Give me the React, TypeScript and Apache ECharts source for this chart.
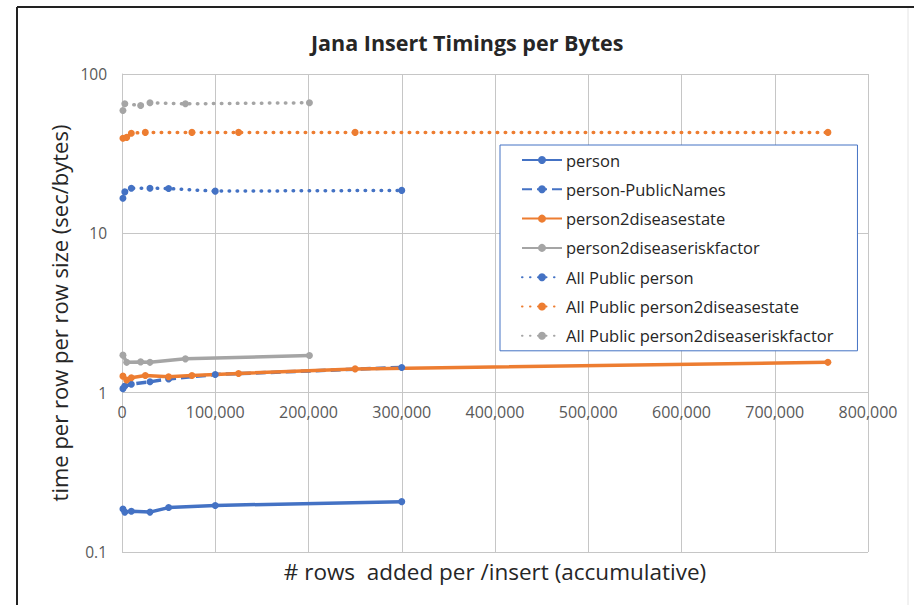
import React, { useEffect, useRef } from "react";
import * as echarts from "echarts";

const TITLE = "Jana Insert Timings per Bytes";
const X_NAME = "# rows  added per /insert (accumulative)";
const Y_NAME = "time per row per row size (sec/bytes)";

const BLUE = "#4472C4";
const ORANGE = "#ED7D31";
const GRAY = "#A5A5A5";

// [rows, seconds/byte]
const person: [number, number][] = [
  [1000, 0.186], [3000, 0.178], [10000, 0.18], [30000, 0.178], [50000, 0.19], [100000, 0.196], [300000, 0.207],
];
const personPublicNames: [number, number][] = [
  [1000, 1.06], [3000, 1.1], [10000, 1.13], [30000, 1.17], [50000, 1.22], [100000, 1.3], [300000, 1.44],
];
const person2diseasestate: [number, number][] = [
  [1000, 1.27], [5000, 1.2], [10000, 1.24], [25000, 1.28], [50000, 1.26], [75000, 1.28], [125000, 1.32], [250000, 1.41], [757000, 1.55],
];
const person2diseaseriskfactor: [number, number][] = [
  [1000, 1.72], [5000, 1.55], [20000, 1.56], [30000, 1.55], [68000, 1.63], [201000, 1.71],
];
const allPublicPerson: [number, number][] = [
  [1000, 16.6], [3000, 18.2], [10000, 19.2], [30000, 19.2], [50000, 19.1], [100000, 18.4], [300000, 18.6],
];
const allPublicP2DState: [number, number][] = [
  [1000, 39.5], [5000, 40], [10000, 42.5], [25000, 43], [75000, 43], [125000, 43], [250000, 43], [757000, 43],
];
const allPublicP2DRisk: [number, number][] = [
  [1000, 59], [3000, 65], [20000, 63.5], [30000, 66], [68000, 65], [201000, 66],
];

const FONT = "'Open Sans', 'Noto Sans', sans-serif";

function lineSeries(name: string, data: [number, number][], color: string, kind: "solid" | "dash" | "dot") {
  const lineStyle: any = { color, width: 3.5 };
  if (kind === "dash") lineStyle.type = [10, 5];
  if (kind === "dot") {
    lineStyle.type = [0.5, 7.5];
    lineStyle.cap = "round";
    lineStyle.width = 3.5;
  }
  return {
    name,
    type: "line",
    data,
    symbol: "circle",
    symbolSize: 7,
    showSymbol: true,
    itemStyle: { color },
    lineStyle,
  };
}

export default function App() {
  const ref = useRef<HTMLDivElement>(null);
  useEffect(() => {
    if (!ref.current) return;
    const chart = echarts.init(ref.current, undefined, { renderer: "svg" });
    chart.setOption({
      animation: false,
      backgroundColor: "#fff",
      title: {
        text: TITLE,
        left: 306,
        top: 26,
        textStyle: { fontFamily: FONT, fontSize: 21.5, fontWeight: "bold", color: "#262626" },
      },
      graphic: [
        { type: "line", shape: { x1: 17, y1: 7, x2: 914, y2: 7 }, style: { stroke: "#222", lineWidth: 2 } },
        { type: "line", shape: { x1: 17, y1: 7, x2: 17, y2: 605 }, style: { stroke: "#222", lineWidth: 2 } },
        { type: "line", shape: { x1: 908, y1: 8, x2: 908, y2: 605 }, style: { stroke: "#e4e4e4", lineWidth: 1 } },
      ],
      grid: { left: 122, top: 74, width: 746, height: 478, containLabel: false },
      legend: {
        orient: "vertical",
        left: 500,
        top: 145,
        padding: [5, 24, 5, 21],
        itemWidth: 40,
        itemHeight: 10,
        itemGap: 9.3,
        backgroundColor: "#fff",
        borderColor: BLUE,
        borderWidth: 1,
        borderRadius: 0,
        textStyle: { fontFamily: FONT, fontSize: 16.5, lineHeight: 20, color: "#262626", padding: [0, 0, 0, -1] },
      },
      xAxis: {
        type: "value",
        min: 0,
        max: 800000,
        interval: 100000,
        offset: -160,
        axisLine: { show: false, onZero: false },
        axisTick: { show: false },
        splitLine: { show: true, lineStyle: { color: "#c6c6c6", width: 1 } },
        axisLabel: {
          margin: 12,
          fontFamily: FONT,
          fontSize: 16,
          color: "#595959",
          formatter: (v: number) => v.toLocaleString("en-US"),
        },
        name: X_NAME,
        nameLocation: "middle",
        nameGap: 168,
        nameTextStyle: { fontFamily: FONT, fontSize: 22.5, color: "#262626" },
      },
      yAxis: {
        type: "log",
        logBase: 10,
        min: 0.1,
        max: 100,
        axisLine: { show: true, onZero: false, lineStyle: { color: "#c6c6c6", width: 1 } },
        axisTick: { show: false },
        splitLine: { show: true, lineStyle: { color: "#c6c6c6", width: 1 } },
        axisLabel: {
          margin: 15,
          fontFamily: FONT,
          fontSize: 15.5,
          color: "#595959",
          formatter: (v: number) => String(v),
        },
        name: Y_NAME,
        nameLocation: "middle",
        nameGap: 52,
        nameTextStyle: { fontFamily: FONT, fontSize: 22, color: "#262626" },
      },
      series: [
        lineSeries("person", person, BLUE, "solid"),
        lineSeries("person-PublicNames", personPublicNames, BLUE, "dash"),
        lineSeries("person2diseasestate", person2diseasestate, ORANGE, "solid"),
        lineSeries("person2diseaseriskfactor", person2diseaseriskfactor, GRAY, "solid"),
        lineSeries("All Public person", allPublicPerson, BLUE, "dot"),
        lineSeries("All Public person2diseasestate", allPublicP2DState, ORANGE, "dot"),
        lineSeries("All Public person2diseaseriskfactor", allPublicP2DRisk, GRAY, "dot"),
      ],
    });
    return () => chart.dispose();
  }, []);
  return (
    <div
      ref={ref}
      style={{ position: "fixed", left: 0, top: 0, width: 914, height: 605 }}
    />
  );
}
